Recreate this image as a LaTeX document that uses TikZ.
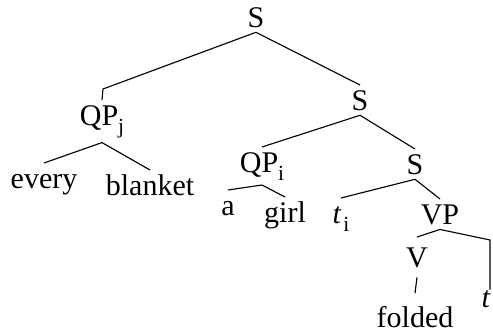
\documentclass[tikz,border=0pt]{standalone}
\usepackage{fontspec}
\setmainfont{Liberation Serif}
\usepackage{tikz}
\tikzset{
  word/.style={anchor=base, inner sep=0pt, outer ysep=2pt, text height=8pt,
               font=\fontsize{12}{14}\selectfont},
  branch/.style={line width=0.45pt},
}
\newcommand{\idx}[1]{\raisebox{-3.2pt}{\fontsize{8.6}{9}\selectfont #1}}

\begin{document}
\begin{tikzpicture}[x=0.4pt, y=-0.4pt]
  \useasboundingbox (0,0) rectangle (493,333);

  \node[word] (s_top)   at (256,27)  {S};
  \node[word] (qp_j)    at (102,125) {QP\idx{j}};
  \node[word] (s_mid)   at (360,110) {S};
  \node[word] (every)   at (44,188)  {every};
  \node[word] (blanket) at (150,195) {blanket};
  \node[word] (qp_i)    at (262,172) {QP\idx{i}};
  \node[word] (s_low)   at (415,174) {S};
  \node[word] (a)       at (228,215) {a};
  \node[word] (girl)    at (285,222) {girl};
  \node[word] (t_i)     at (341,223) {\textit{t}\kern0.8pt\idx{i}};
  \node[word] (vp)      at (440,224) {VP};
  \node[word, outer ysep=4pt] (v) at (417,267) {V};
  \node[word, outer ysep=5.5pt] (folded) at (415,327) {folded};
  \node[word, text height=5pt] (t_gap) at (486,307) {\textit{t}};

  \coordinate (k_j) at (103,89);
  \coordinate (k_t) at (490,240);

  \draw[branch] (s_top.south) -- (k_j) -- (qp_j.north);
  \draw[branch] (s_top.south) -- (s_mid.north);
  \draw[branch] (qp_j.south) -- (every.north);
  \draw[branch] (qp_j.south) -- (blanket.north);
  \draw[branch] (s_mid.south) -- (qp_i.north);
  \draw[branch] (s_mid.south) -- (s_low.north);
  \draw[branch] (qp_i.south) -- (a.north);
  \draw[branch] (qp_i.south) -- (girl.north);
  \draw[branch] (s_low.south) -- (t_i.north);
  \draw[branch] (s_low.south) -- (vp.north);
  \draw[branch] (vp.south) -- (v.north);
  \draw[branch] (vp.south) -- (k_t) -- (k_t |- t_gap.north);
  \draw[branch] (v.south) -- (folded.north);
\end{tikzpicture}
\end{document}
